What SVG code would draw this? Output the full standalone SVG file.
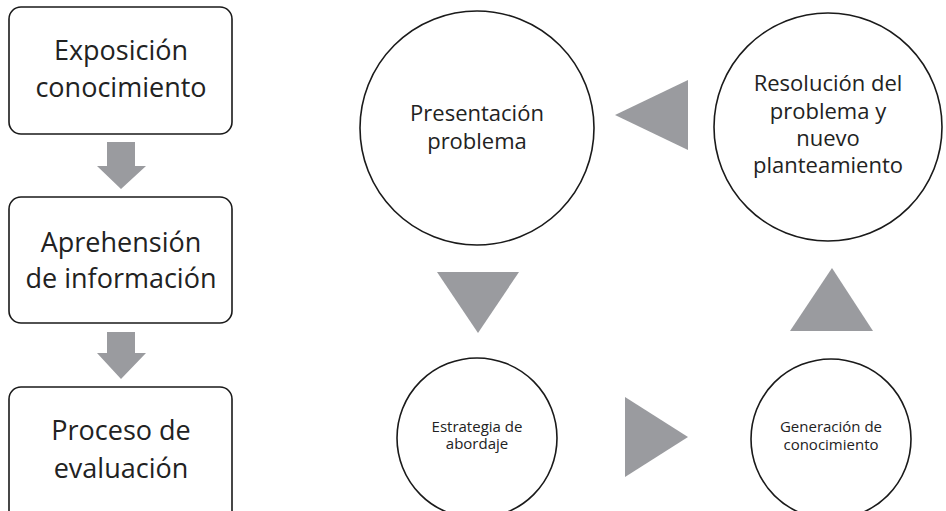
<svg xmlns="http://www.w3.org/2000/svg" width="946" height="511" viewBox="0 0 946 511">
<style>
.box{fill:#fff;stroke:#1a1a1a;stroke-width:1.6}
.arr{fill:#9a9b9f}
text{font-family:"Open Sans","Noto Sans",sans-serif;fill:#222;text-anchor:middle}
.big{font-size:27px}
.mid{font-size:22px}
.sm{font-size:15px}
</style>
<rect width="946" height="511" fill="#fff"/>
<g id="connectors">
<polygon class="arr" points="107,142 135,142 135,166 146,166 121,189 97,166 107,166"/>
<polygon class="arr" points="107,332 135,332 135,353 146,353 121,379 97,353 107,353"/>
<polygon class="arr" points="615,115 688,80 688,150"/>
<polygon class="arr" points="437,272 519,272 478,333"/>
<polygon class="arr" points="625,397 625,477 688,437"/>
<polygon class="arr" points="832,268 790,331 873,331"/>
</g>
<g id="n1"><rect class="box" x="9" y="7" width="223" height="127" rx="12"/><text class="big" x="121" y="60">Exposición</text><text class="big" x="121" y="97">conocimiento</text></g>
<g id="n2"><rect class="box" x="9" y="197" width="223" height="126" rx="12"/><text class="big" x="121" y="252">Aprehensión</text><text class="big" x="121" y="288">de información</text></g>
<g id="n3"><rect class="box" x="9" y="387" width="223" height="140" rx="12"/><text class="big" x="121" y="440">Proceso de</text><text class="big" x="121" y="478">evaluación</text></g>
<g id="c1"><circle class="box" cx="477" cy="128" r="117"/><text class="mid" x="477" y="121">Presentación</text><text class="mid" x="477" y="149">problema</text></g>
<g id="c2"><circle class="box" cx="828" cy="127" r="114"/><text class="mid" x="828" y="91">Resolución del</text><text class="mid" x="828" y="119">problema y</text><text class="mid" x="828" y="146">nuevo</text><text class="mid" x="828" y="173">planteamiento</text></g>
<g id="c3"><circle class="box" cx="477" cy="438" r="80"/><text class="sm" x="477" y="432">Estrategia de</text><text class="sm" x="477" y="449">abordaje</text></g>
<g id="c4"><circle class="box" cx="831" cy="439" r="80"/><text class="sm" x="831" y="432">Generación de</text><text class="sm" x="831" y="450">conocimiento</text></g>
</svg>
